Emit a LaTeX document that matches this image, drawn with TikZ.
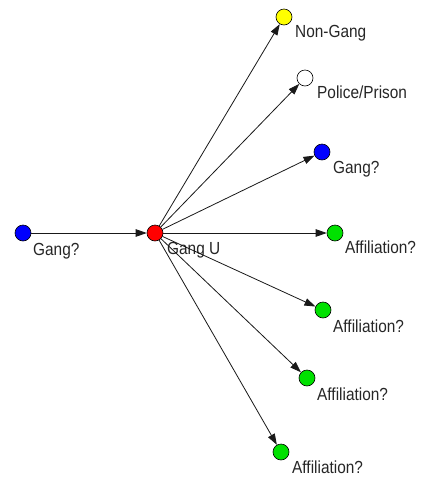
\documentclass[tikz,border=0pt]{standalone}
\usepackage{fontspec}
\setmainfont{Liberation Sans}[FakeStretch=0.88]
\usetikzlibrary{arrows.meta}
\definecolor{nodegreen}{RGB}{0,225,0}
\definecolor{nodeyellow}{RGB}{255,255,0}
\begin{document}
\begin{tikzpicture}[x=1pt,y=-1pt,
  state/.style={circle,draw=black,line width=0.6pt,minimum size=16pt,inner sep=0pt},
  lbl/.style={anchor=base west,inner sep=0pt,font=\fontsize{17.5}{20}\selectfont,text=black!85},
  link/.style={draw=black!90,line width=0.8pt,-{Triangle[length=11pt,width=7.5pt]}}]
\fill[white] (0,0) rectangle (423,483);
\useasboundingbox (0,0) rectangle (423,483);

% states
\node[state,fill=blue]        (g0) at (23,233) {};
\node[state,fill=red]         (gu) at (155,233) {};
\node[state,fill=nodeyellow]  (ng) at (284,17) {};
\node[state,fill=white]       (pp) at (305,78) {};
\node[state,fill=blue]        (g1) at (322,152) {};
\node[state,fill=nodegreen]   (a1) at (335,233) {};
\node[state,fill=nodegreen]   (a2) at (323,310) {};
\node[state,fill=nodegreen]   (a3) at (307,378) {};
\node[state,fill=nodegreen]   (a4) at (281,452) {};

% labels
\node[lbl] (lg0) at (33,255) {Gang?};
\node[lbl] (lgu) at (167,254) {Gang U};
\node[lbl] (lng) at (295,37) {Non-Gang};
\node[lbl] (lpp) at (317,98) {Police/Prison};
\node[lbl] (lg1) at (333,173) {Gang?};
\node[lbl] (la1) at (345,253) {Affiliation?};
\node[lbl] (la2) at (333,332) {Affiliation?};
\node[lbl] (la3) at (317,400) {Affiliation?};
\node[lbl] (la4) at (292,473) {Affiliation?};

% transitions
\draw[link] (g0) -- (gu);
\foreach \t in {ng,pp,g1,a1,a2,a3,a4}
  \draw[link] (gu) -- (\t);
\end{tikzpicture}
\end{document}
